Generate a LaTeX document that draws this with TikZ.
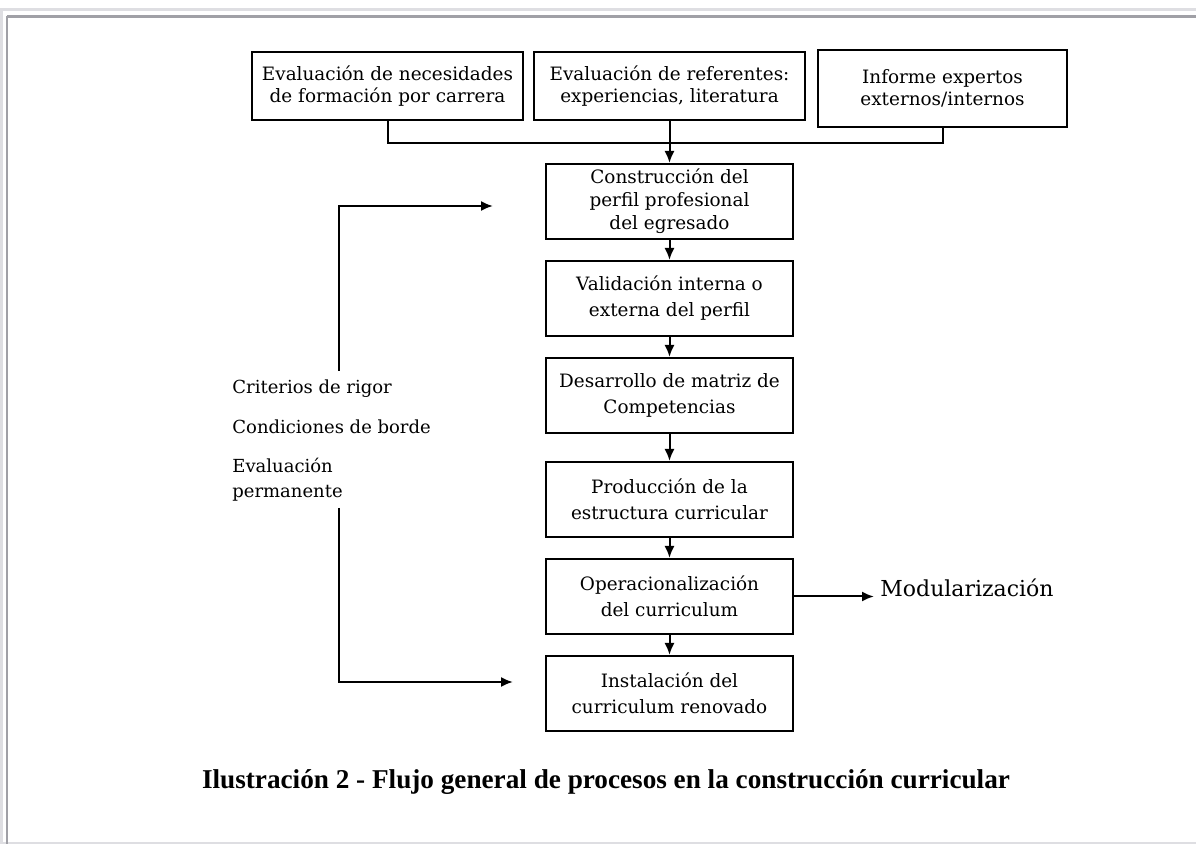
\documentclass[tikz,border=0pt]{standalone}
\usepackage{fontspec}
\usepackage{xcolor}
\usepackage{tikz}
\usetikzlibrary{arrows, arrows.meta, positioning}
\newfontfamily\diagfont{DejaVu Serif}
\newfontfamily\captfont{Liberation Serif}
\definecolor{framelight}{RGB}{222,222,226}
\definecolor{framedark}{RGB}{160,160,166}

\begin{document}
\begin{tikzpicture}[
    x=0.5pt, y=-0.5pt,
    node distance=10pt,
    box/.style={rectangle, draw, line width=1pt, minimum width=123.5pt, minimum height=37.5pt, inner sep=1pt, align=center, font=\diagfont\fontsize{9.2}{13}\selectfont},
    topbox/.style={box, minimum width=135.5pt, minimum height=34pt, font=\diagfont\fontsize{9.2}{11}\selectfont},
    label/.style={anchor=west, inner sep=2pt, align=left, font=\diagfont\fontsize{9}{12.5}\selectfont},
    link/.style={line width=1pt},
    arrow/.style={-{Latex[length=6pt, width=5pt]}, line width=1pt},
    frameline/.style={line width=1.25pt}
]
\useasboundingbox (0,0) rectangle (1196,844);

% page frame
\draw[frameline, framelight] (0,9.5) -- (1196,9.5);
\draw[frameline, framelight] (1.5,9.5) -- (1.5,844);
\draw[line width=0.6pt, framelight] (0,843) -- (1196,843);
\draw[frameline, framedark] (7,16.5) -- (1196,16.5);
\draw[frameline, framedark] (7,16.5) -- (7,844);

% sources
\node[topbox] (needs) at (387.5,86) {Evaluación de necesidades\\de formación por carrera};
\node[topbox] (refs) at (669.5,86) {Evaluación de referentes:\\experiencias, literatura};
\node[topbox, minimum width=124.5pt, minimum height=38.5pt] (experts) at (942.5,88.5) {Informe expertos\\externos/internos};

% main flow
\node[box, font=\diagfont\fontsize{9.2}{11.5}\selectfont] (profile) at (669.5,201.5) {Construcción del\\perfil profesional\\del egresado};
\node[box, below=of profile] (valid) {Validación interna o\\externa del perfil};
\node[box, below=of valid] (matrix) {Desarrollo de matriz de\\Competencias};
\node[box, below=13.5pt of matrix] (struct) {Producción de la\\estructura curricular};
\node[box, below=of struct] (oper) {Operacionalización\\del curriculum};
\node[box, below=of oper] (install) {Instalación del\\curriculum renovado};

\node[anchor=west, inner sep=3pt, font=\diagfont\fontsize{11}{13}\selectfont] (modul) at (874,588) {Modularización};

% side notes
\node[label] (rigor) at (228,389) {Criterios de rigor};
\node[label] (border) at (228,427) {Condiciones de borde};
\node[label] (permeval) at (228,480) {Evaluación\\permanente};

\coordinate (join) at (669.5,143.5);
\coordinate (fbup) at (339,371);
\coordinate (fbtop) at (493,206);
\coordinate (fbdown) at (339,508);
\coordinate (fbbot) at (513,682);

\draw[link] (needs.south) |- (join) -| (experts.south);
\draw[arrow] (refs) -- (profile);
\draw[arrow] (profile) -- (valid);
\draw[arrow] (valid) -- (matrix);
\draw[arrow] (matrix) -- (struct);
\draw[arrow] (struct) -- (oper);
\draw[arrow] (oper) -- (install);
\draw[arrow] (oper.east) -- (oper.east -| modul.west);
\draw[arrow] (fbup) |- (fbtop);
\draw[arrow] (fbdown) |- (fbbot);

\node[font=\captfont\bfseries\fontsize{13.6}{16}\selectfont] (caption) at (606,782) {Ilustración 2 - Flujo general de procesos en la construcción curricular};

\end{tikzpicture}
\end{document}
